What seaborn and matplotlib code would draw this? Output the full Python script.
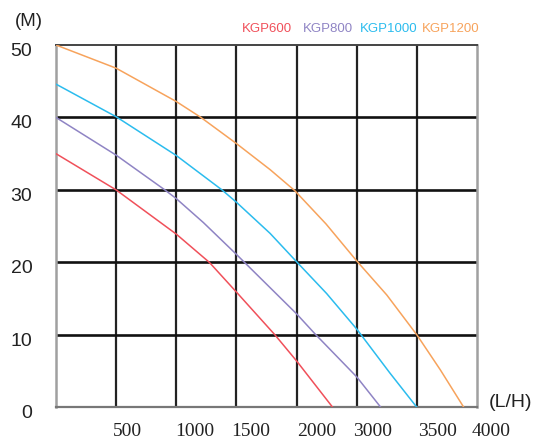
import matplotlib
matplotlib.use('Agg')
import matplotlib.pyplot as plt
import matplotlib.transforms as mtransforms
import seaborn as sns
import pandas as pd

# pump curves, flow in L/H, head in M
models = ['KGP600', 'KGP800', 'KGP1000', 'KGP1200']
colors = ['#f0505a', '#8f84c4', '#2bbcee', '#f7a35c']

kgp600_flow = [0, 500, 1000, 1275, 1500, 1820, 2000, 2300]
kgp600_head = [35, 30, 23.9, 20, 15.9, 10, 6.4, 0]

kgp800_flow = [0, 500, 905, 1000, 1225, 1500, 2000, 2155, 2500, 2700]
kgp800_head = [40, 34.8, 30, 28.8, 25.5, 21.1, 12.9, 10.1, 4.2, 0]

kgp1000_flow = [0, 500, 1000, 1380, 1500, 1780, 2005, 2250, 2500, 2775, 3000]
kgp1000_head = [44.6, 40.1, 34.75, 30, 28.3, 24.0, 20, 15.7, 10.8, 4.75, 0]

kgp1200_flow = [0, 500, 1000, 1205, 1500, 1780, 1985, 2245, 2500, 2750, 3000, 3195, 3390]
kgp1200_head = [50, 46.8, 42.2, 40, 36.4, 32.8, 29.9, 25.3, 20.2, 15.5, 10, 5.17, 0]

grid_x = [0, 500, 1000, 1500, 2000, 2500, 3000, 3500]
y_ticks = [0, 10, 20, 30, 40, 50]
x_labels = ['500', '1000', '1500', '2000', '3000', '3500', '4000']

# where the (misaligned) flow labels sit along the axis
x_label_pos = [590, 1156, 1621, 2170, 2631, 3172, 3621]

frames = []
for name, fl, hd in [('KGP600', kgp600_flow, kgp600_head),
                     ('KGP800', kgp800_flow, kgp800_head),
                     ('KGP1000', kgp1000_flow, kgp1000_head),
                     ('KGP1200', kgp1200_flow, kgp1200_head)]:
    frames.append(pd.DataFrame({'flow': fl, 'head': hd, 'model': name}))
df = pd.concat(frames, ignore_index=True)

sns.set_style('white')
plt.rcParams['font.family'] = ['Liberation Sans', 'DejaVu Sans']

fig = plt.figure(figsize=(5.35, 4.4), dpi=100)
ax = fig.add_axes([0.1047, 0.0743, 0.7869, 0.8234])

# grid first so the curves sit on top
for gx in grid_x[1:-1]:
    ax.axvline(gx, color='#222222', lw=1.6, zorder=1)
for gy in y_ticks[1:-1]:
    ax.axhline(gy, color='#111111', lw=1.9, zorder=1)

sns.lineplot(data=df, x='flow', y='head', hue='model', palette=colors,
             hue_order=models, sort=False, estimator=None, lw=1.1,
             legend=False, ax=ax, zorder=3)

ax.set_xlim(0, 3500)
ax.set_ylim(0, 50)
ax.set_xlabel('')
ax.set_ylabel('')

ax.set_xticks(grid_x)
ax.set_xticklabels([])
ax.set_yticks(y_ticks)
ax.set_yticklabels([str(v) for v in y_ticks], fontsize=14, color='#222222')
ax.tick_params(axis='x', length=0)
ax.tick_params(axis='y', length=2, width=1.8, color='#111111', pad=15)

# labels sit a few px under their lines in the original
off = mtransforms.ScaledTranslation(0, -3 / 72, fig.dpi_scale_trans)
for lab in ax.get_yticklabels():
    lab.set_transform(lab.get_transform() + off)

for sp in ['left', 'right']:
    ax.spines[sp].set_color('#a0a0a0')
    ax.spines[sp].set_linewidth(1.8)
ax.spines['top'].set_color('#444444')
ax.spines['top'].set_linewidth(1.4)
ax.spines['bottom'].set_color('#777777')
ax.spines['bottom'].set_linewidth(1.6)

trans = ax.get_xaxis_transform()
for pos, txt in zip(x_label_pos, x_labels):
    ax.text(pos, -0.068, txt, transform=trans, ha='center', va='center',
            fontsize=14, family='Liberation Serif', color='#222222', clip_on=False)

fig.text(29 / 535, 1 - 22 / 440, '(M)', ha='center', va='center',
         fontsize=13.5, color='#222222')
fig.text(511 / 535, 1 - 402 / 440, '(L/H)', ha='center', va='center',
         fontsize=14, color='#222222')

legend_x = [266.7, 327.5, 388.3, 450.5]
for name, col, lx in zip(models, colors, legend_x):
    fig.text(lx / 535, 1 - 29.5 / 440, name, ha='center', va='center',
             fontsize=9.5, color=col)

plt.savefig('out.png', dpi=100)
plt.close()
